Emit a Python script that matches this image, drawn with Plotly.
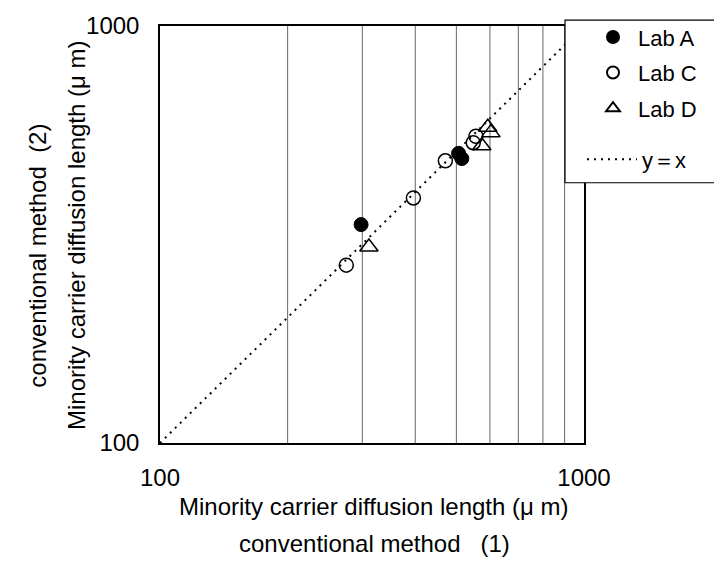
import plotly.graph_objects as go

# Data
labA_x = [298, 506, 515]
labA_y = [334, 495, 481]
labC_x = [275, 396, 471, 548, 556]
labC_y = [267, 387, 475, 525, 544]
labD_x = [311, 574, 593, 603]
labD_y = [295, 516, 572, 555]
line_xy = [100, 1000]
tick_vals = [100, 1000]
tick_text = ["100", "1000"]
grid_x = [200, 300, 400, 500, 600, 700, 800, 900]

FONT = "Liberation Sans, Arial, sans-serif"
W, H = 714, 561
L, R, T, B = 160, 130, 20, 118
PW, PH = W - L - R, H - T - B


def px_x(p):
    return (p - L) / PW


def px_y(p):
    return (H - B - p) / PH


fig = go.Figure()
fig.add_trace(go.Scatter(x=labA_x, y=labA_y, mode="markers", name="Lab A", legend="legend",
                         legendgroup="a",
                         marker=dict(symbol="circle", size=14, color="black",
                                     line=dict(color="black", width=1))))
fig.add_trace(go.Scatter(x=labC_x, y=labC_y, mode="markers", name="Lab C", legend="legend",
                         legendgroup="c",
                         marker=dict(symbol="circle-open", size=14, color="black",
                                     line=dict(color="black", width=1.5))))
fig.add_trace(go.Scatter(x=labD_x, y=labD_y, mode="markers", name="Lab D", legend="legend",
                         legendgroup="d",
                         marker=dict(symbol="triangle-up-open", size=16, color="black",
                                     line=dict(color="black", width=1.5))))
fig.add_trace(go.Scatter(x=line_xy, y=line_xy, mode="lines", name="y\uff1dx", legend="legend2",
                         line=dict(color="black", width=2, dash="2px,5px")))

# vertical gridlines at intermediate positions
for gx in grid_x:
    fig.add_shape(type="line", xref="x", yref="paper", x0=gx, x1=gx, y0=0, y1=1,
                  line=dict(color="#666666", width=1), layer="below")

# legend frame
fig.add_shape(type="rect", xref="paper", yref="paper",
              x0=px_x(565), x1=px_x(730), y0=px_y(179), y1=px_y(14),
              line=dict(color="black", width=1.2), fillcolor="white", layer="above")

fig.update_layout(
    width=W, height=H,
    margin=dict(l=L, r=R, t=T, b=B),
    paper_bgcolor="white", plot_bgcolor="white",
    font=dict(family=FONT, size=22, color="black"),
    showlegend=True,
    legend=dict(x=px_x(588), y=px_y(10), xanchor="left", yanchor="top",
                borderwidth=0, bgcolor="rgba(0,0,0,0)",
                font=dict(family=FONT, size=22), tracegroupgap=4,
                itemsizing="constant", itemwidth=40),
    legend2=dict(x=px_x(582), y=px_y(134), xanchor="left", yanchor="top",
                 borderwidth=0, bgcolor="rgba(0,0,0,0)",
                 font=dict(family=FONT, size=22), itemwidth=50),
    xaxis=dict(type="log", range=[2, 3], tickvals=tick_vals, ticktext=tick_text,
               showgrid=False, zeroline=False, showline=True, linecolor="black",
               linewidth=1.5, mirror=True, ticks="", ticklabelstandoff=12,
               tickfont=dict(size=24)),
    yaxis=dict(type="log", range=[2, 3], tickvals=tick_vals, ticktext=tick_text,
               showgrid=False, zeroline=False, showline=True, linecolor="black",
               linewidth=1.5, mirror=True, ticks="", ticklabelstandoff=14,
               tickfont=dict(size=24)),
)

fig.add_annotation(text="Minority carrier diffusion length (\u03bc m)", xref="paper", yref="paper",
                   x=px_x(374), y=px_y(507), showarrow=False, xanchor="center", yanchor="middle",
                   font=dict(size=24))
fig.add_annotation(text="conventional method\u00a0\u00a0\u00a0(1)", xref="paper", yref="paper",
                   x=px_x(374), y=px_y(545), showarrow=False, xanchor="center", yanchor="middle",
                   font=dict(size=24))
fig.add_annotation(text="Minority carrier diffusion length (\u03bc m)", xref="paper", yref="paper",
                   x=px_x(77), y=px_y(232), showarrow=False, textangle=-90,
                   xanchor="center", yanchor="middle", font=dict(size=24))
fig.add_annotation(text="conventional method\u00a0\u00a0(2)", xref="paper", yref="paper",
                   x=px_x(38), y=px_y(253), showarrow=False, textangle=-90,
                   xanchor="center", yanchor="middle", font=dict(size=24))

fig.write_html("out.html")
